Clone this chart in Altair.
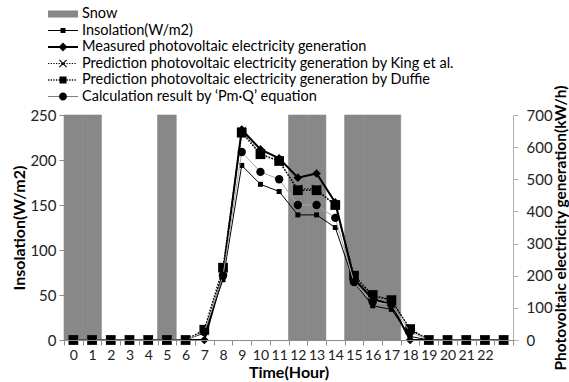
import altair as alt
import pandas as pd
import numpy as np

hours = list(range(24))
snow_hours = [0, 1, 5, 12, 13, 15, 16, 17]
insolation = [0, 0, 0, 0, 0, 0, 0, 8, 67, 194, 173, 165, 139, 139, 125, 64, 38, 34, 4, 0, 0, 0, 0, 0]
measured = [0, 0, 0, 0, 0, 0, 0, 0, 205, 655, 593, 565, 505, 518, 428, 190, 128, 110, 0, 0, 0, 0, 0, 0]
king = [0, 0, 0, 0, 0, 0, 0, 28, 215, 650, 580, 555, 470, 470, 420, 200, 135, 125, 33, 0, 0, 0, 0, 0]
duffie = [0, 0, 0, 0, 0, 0, 0, 32, 225, 645, 578, 557, 466, 466, 420, 200, 140, 124, 34, 0, 0, 0, 0, 0]
pmq = [0, 0, 0, 0, 0, 0, 0, 25, 200, 585, 523, 500, 420, 420, 380, 180, 118, 110, 25, 0, 0, 0, 0, 0]

labels = [
    "Snow",
    "Insolation(W/m2)",
    "Measured photovoltaic electricity generation",
    "Prediction photovoltaic electricity generation by King et al.",
    "Prediction photovoltaic electricity generation by Duffie",
    "Calculation result by \u2018Pm\u00b7Q\u2019 equation",
]

FONT = "Lato"
SNOW = "#888888"

df = pd.DataFrame({"hour": hours, "ins": insolation, "meas": measured,
                   "king": king, "duffie": duffie, "pmq": pmq})
snow_df = pd.DataFrame({"hour": snow_hours})

xscale = alt.Scale(domain=hours, paddingInner=0, paddingOuter=0)
xaxis = alt.Axis(title="Time(Hour)", tickBand="extent", labelAngle=0,
                 labelExpr="datum.value == 23 ? '' : datum.label")
yl = alt.Scale(domain=[0, 250])
yr = alt.Scale(domain=[0, 700])
left_axis = alt.Axis(title="Insolation(W/m2)", values=[0, 50, 100, 150, 200, 250], orient="left")
right_axis = alt.Axis(title="Photovoltaic electricity generation(kW/h)", orient="right",
                      values=[0, 100, 200, 300, 400, 500, 600, 700], titleAngle=270,
                      titleBaseline="top", labelPadding=8, titlePadding=1, titleFontSize=15.5,
                      domainColor="#b0b0b0", tickColor="#b0b0b0")

X = alt.X("hour:O", scale=xscale, axis=xaxis)

snow = alt.Chart(snow_df).mark_rect(color=SNOW, stroke=SNOW, strokeWidth=0.6).encode(
    x=X,
    y=alt.Y(datum=250, type="quantitative", scale=yl, axis=left_axis),
    y2=alt.Y2(datum=0),
)

base = alt.Chart(df)

def series(col, scale, axis, line_kw, pt_kw):
    y = alt.Y(f"{col}:Q", scale=scale, axis=axis)
    ln = base.mark_line(**line_kw).encode(x=X, y=y)
    pt = base.mark_point(**pt_kw).encode(x=X, y=y)
    return [ln, pt]

ins_layers = series("ins", yl, left_axis, dict(color="black", strokeWidth=1),
                    dict(shape="square", filled=True, color="black", size=25, opacity=1))
left = alt.layer(snow, *ins_layers)

meas_l = series("meas", yr, right_axis, dict(color="black", strokeWidth=2),
                dict(shape="diamond", filled=True, color="black", size=75, opacity=1))
king_l = series("king", yr, right_axis, dict(color="black", strokeWidth=1, strokeDash=[1.5, 1.5]),
                dict(shape="M-1,-1L1,1M-1,1L1,-1", filled=False, color="black", size=70,
                     strokeWidth=1, opacity=1))
duf_l = series("duffie", yr, right_axis, dict(color="black", strokeWidth=1.5, strokeDash=[1.5, 1.5]),
               dict(shape="square", filled=True, color="black", size=95, opacity=1))
pmq_l = series("pmq", yr, right_axis, dict(color="#a6a6a6", strokeWidth=1),
               dict(shape="circle", filled=True, color="black", size=70, opacity=1))

# legend symbols (unit = 8 px)
W = 1.875

def hbar(x0, x1, t):
    return f"M{x0:.3f},{-t:.3f}H{x1:.3f}V{t:.3f}H{x0:.3f}Z"

def sqp(h):
    return f"M{-h:.3f},{-h:.3f}H{h:.3f}V{h:.3f}H{-h:.3f}Z"

def dots(t, step, d):
    out = []
    x = -W
    while x < W - d:
        out.append(hbar(x, x + d, t))
        x += step
    return "".join(out)

def xmark(a, t):
    k = t / np.sqrt(2)
    p1 = f"M{-a-k:.3f},{-a+k:.3f}L{-a+k:.3f},{-a-k:.3f}L{a+k:.3f},{a-k:.3f}L{a-k:.3f},{a+k:.3f}Z"
    p2 = f"M{a-k:.3f},{-a-k:.3f}L{a+k:.3f},{-a+k:.3f}L{-a+k:.3f},{a+k:.3f}L{-a-k:.3f},{a-k:.3f}Z"
    return p1 + p2

def circ(r):
    return f"M{-r:.3f},0A{r:.3f},{r:.3f} 0 1,1 {r:.3f},0A{r:.3f},{r:.3f} 0 1,1 {-r:.3f},0Z"

paths = [
    f"M{-W},-0.44H{W}V0.44H{-W}Z",
    hbar(-W, W, 0.065) + sqp(0.31),
    hbar(-W, W, 0.12) + "M0,-0.55L0.55,0L0,0.55L-0.55,0Z",
    dots(0.06, 0.33, 0.16) + xmark(0.45, 0.07),
    dots(0.08, 0.33, 0.16) + sqp(0.44),
    hbar(-W, W, 0.035) + circ(0.5),
]
colors = [SNOW, "black", "black", "black", "black", "black"]

leg_df = pd.DataFrame({"label": labels, "hour": [0] * 6, "v": [0] * 6})
leg_props = dict(title=None, orient="none", legendX=-9, legendY=-109, padding=0,
                 labelOffset=11, rowPadding=1.5, symbolSize=256, symbolStrokeWidth=0,
                 symbolOpacity=1, labelFont=FONT, labelFontSize=14.5, labelColor="black",
                 labelLimit=600)
legend_layer = alt.Chart(leg_df).mark_point(filled=True, opacity=0).encode(
    x=X,
    y=alt.Y("v:Q", scale=yr, axis=right_axis),
    shape=alt.Shape("label:N", scale=alt.Scale(domain=labels, range=paths),
                    legend=alt.Legend(**leg_props)),
    color=alt.Color("label:N", scale=alt.Scale(domain=labels, range=colors),
                    legend=alt.Legend(**leg_props)),
)

right = alt.layer(*meas_l, *king_l, *duf_l, *pmq_l, legend_layer)

chart = alt.layer(left, right).resolve_scale(y="independent").properties(
    width=449, height=225,
    autosize=alt.AutoSizeParams(type="none"),
    padding={"left": 64, "top": 115, "right": 56, "bottom": 42},
).configure_view(stroke=None).configure_axis(
    labelFont=FONT, labelFontSize=15, labelColor="#222", titleFont=FONT, titleFontSize=16,
    titleFontWeight="bold", titleColor="black", domainColor="#8c8c8c", tickColor="#8c8c8c",
    tickSize=5, grid=False, labelPadding=3, titlePadding=2,
).configure_axisX(labelPadding=3, titlePadding=2, labelFontSize=14)

chart.save("out.html", embed_options={"renderer": "svg", "actions": False})
